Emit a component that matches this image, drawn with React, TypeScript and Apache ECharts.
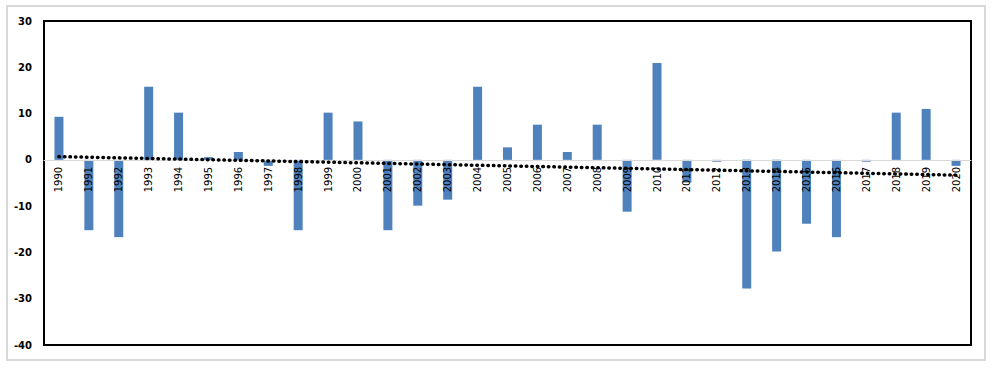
import React, { useEffect, useRef } from "react";
import * as echarts from "echarts";

const years: string[] = [
  "1990", "1991", "1992", "1993", "1994", "1995", "1996", "1997", "1998", "1999",
  "2000", "2001", "2002", "2003", "2004", "2005", "2006", "2007", "2008", "2009",
  "2010", "2011", "2012", "2013", "2014", "2015", "2016", "2017", "2018", "2019", "2020",
];

const values: number[] = [
  9.3, -15.2, -16.7, 15.8, 10.2, 0.6, 1.7, -1.3, -15.2, 10.2,
  8.3, -15.2, -9.9, -8.6, 15.8, 2.7, 7.6, 1.7, 7.6, -11.2,
  20.9, -4.9, -0.4, -27.8, -19.8, -13.8, -16.7, -0.4, 10.2, 11.0, -1.3,
];

// Linear trend line endpoints (first and last year)
const trendStart = 0.7;
const trendEnd = -3.3;

const yTicks = { min: -40, max: 30, interval: 10 };

export default function App() {
  const ref = useRef<HTMLDivElement>(null);

  useEffect(() => {
    if (!ref.current) return;
    const chart = echarts.init(ref.current, undefined, { renderer: "svg" });
    const trend = years.map((_, i) =>
      i === 0 ? trendStart : i === years.length - 1 ? trendEnd : null
    );
    const top = 21;
    const bottom = 25;
    const plotH = 370 - top - bottom;
    const zeroFromBottom = (plotH * (0 - yTicks.min)) / (yTicks.max - yTicks.min);
    chart.setOption({
      animation: false,
      backgroundColor: "#ffffff",
      textStyle: { fontFamily: "DejaVu Sans" },
      grid: {
        left: 44,
        right: 24,
        top,
        bottom,
        outerBoundsMode: "none",
        containLabel: false,
        show: true,
        borderColor: "#000000",
        borderWidth: 2,
        backgroundColor: "transparent",
      },
      graphic: [
        {
          type: "rect",
          shape: { x: 7, y: 6, width: 978, height: 354 },
          style: { fill: "none", stroke: "#d9d9d9", lineWidth: 2 },
          silent: true,
        },
      ],
      xAxis: {
        type: "category",
        data: years,
        position: "bottom",
        offset: -zeroFromBottom,
        axisLine: { onZero: false, lineStyle: { color: "#d9d9d9", width: 1 } },
        axisTick: { show: false },
        axisLabel: {
          rotate: 90,
          fontSize: 10,
          color: "#000000",
          margin: 7,
          fontFamily: "DejaVu Sans",
          interval: 0,
        },
        splitLine: { show: false },
        z: 4,
      },
      yAxis: {
        type: "value",
        min: yTicks.min,
        max: yTicks.max,
        interval: yTicks.interval,
        axisLine: { show: false },
        axisTick: { show: false },
        splitLine: { show: false },
        axisLabel: {
          fontSize: 10,
          fontWeight: "bold",
          color: "#000000",
          margin: 12,
          fontFamily: "DejaVu Sans",
        },
      },
      series: [
        {
          type: "bar",
          data: values,
          barWidth: 9,
          itemStyle: { color: "#4F81BD" },
          z: 2,
        },
        {
          type: "line",
          data: trend,
          connectNulls: true,
          symbol: "none",
          lineStyle: { color: "#000000", width: 3.5, type: [0.5, 5], cap: "round" },
          z: 5,
        },
      ],
    });
    return () => chart.dispose();
  }, []);

  return (
    <div
      ref={ref}
      style={{ position: "fixed", left: 0, top: 0, width: 995, height: 370 }}
    />
  );
}
